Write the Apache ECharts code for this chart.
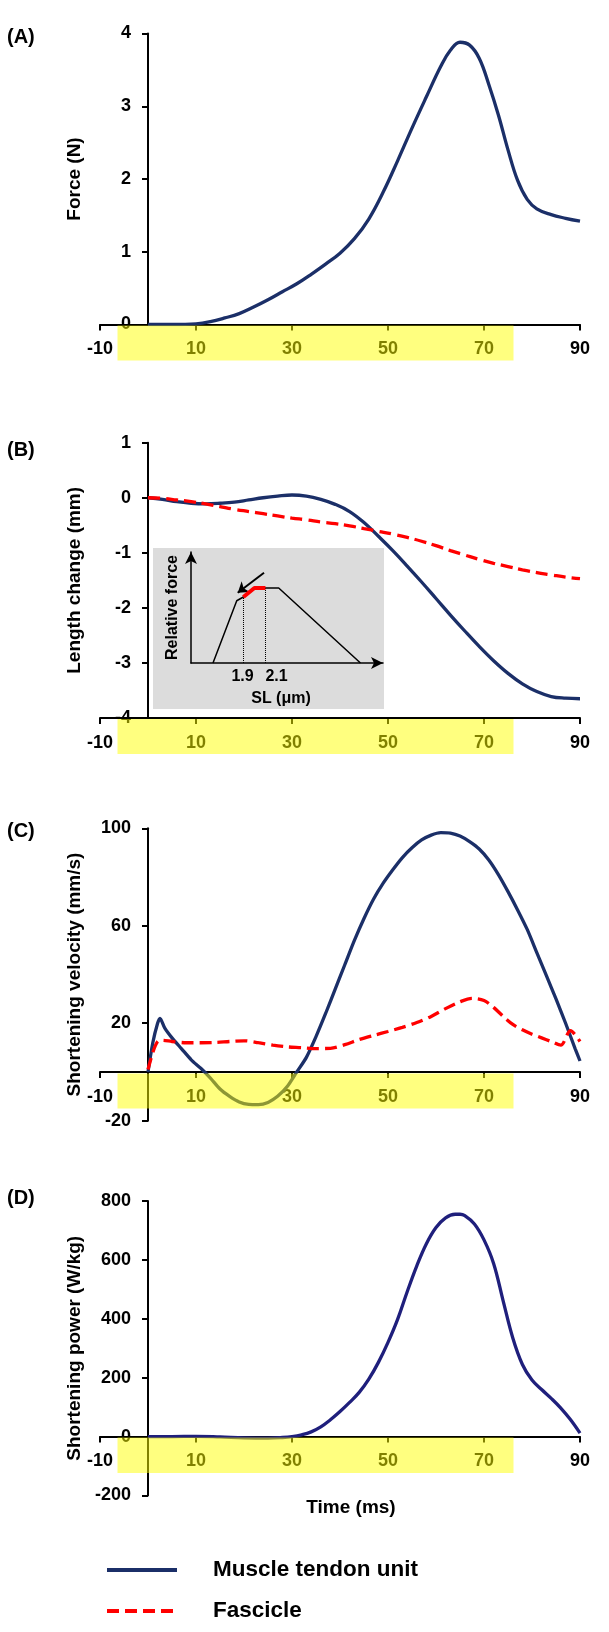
<!DOCTYPE html>
<html>
<head>
<meta charset="utf-8">
<script src="https://cdn.jsdelivr.net/npm/echarts@6.0.0/dist/echarts.min.js"></script>
<style>
html,body{margin:0;padding:0;background:#fff;}
#main{width:609px;height:1632px;}
</style>
</head>
<body>
<div id="main"></div>
<script>
// (A) force
var forceTime = [0,5,10,13,16,19,22,25,28,31,34,37,40,43,46,49,52,55,58,61,63,65,67,69,71,73,75,77,79,81,84,87,90];
var forceMTU = [0,0,0.01,0.04,0.09,0.15,0.24,0.34,0.45,0.56,0.69,0.83,0.98,1.18,1.45,1.82,2.25,2.70,3.13,3.55,3.77,3.88,3.84,3.66,3.30,2.88,2.40,1.98,1.72,1.59,1.51,1.46,1.42];

// (B) length change
var lenTime = [0,3,6,9,12,15,18,21,24,27,30,33,36,39,42,45,48,51,54,57,60,63,66,69,72,75,78,81,84,87,90];
var lenMTU = [0,-0.03,-0.07,-0.10,-0.11,-0.10,-0.08,-0.04,0.00,0.03,0.05,0.03,-0.03,-0.12,-0.25,-0.45,-0.70,-0.96,-1.24,-1.53,-1.83,-2.13,-2.42,-2.70,-2.96,-3.19,-3.38,-3.52,-3.61,-3.64,-3.65];
var lenFas = [0,-0.01,-0.04,-0.07,-0.11,-0.16,-0.21,-0.25,-0.29,-0.33,-0.37,-0.40,-0.44,-0.47,-0.51,-0.56,-0.61,-0.66,-0.72,-0.79,-0.87,-0.96,-1.04,-1.12,-1.19,-1.25,-1.31,-1.36,-1.40,-1.44,-1.47];

// (C) shortening velocity
var velTimeMTU = [0,1,2,2.5,3.5,5,7,9,11,13,15,17,19,21,23,25,27,29,31,33,35,37,39,41,43,45,47,49,51,53,55,57,59,61,63,65,67,69,71,73,75,77,79,81,83,85,87,89,90];
var velMTU = [0,12,20,22,18,14,9.5,5,1.5,-2.5,-7,-10,-12.3,-13.3,-13.4,-12.5,-10,-6,0,6,14.5,24,34,44,54,63,71,77.5,83,88,92,95.2,97.2,98.2,98,96.8,94.5,91.5,87,81,74,66.5,58.5,49,39.5,30,20,9.5,4.5];
var velTimeFas = [0,1,2,3,5,8,11,14,17,20,23,26,29,32,35,38,41,44,47,50,53,56,59,62,65,67.5,70,72,74,76,78,80,82,84,86,88,90];
var velFas = [1,8,12.5,13,12.5,12,12,12.1,12.5,12.8,12,11,10.3,10,9.6,9.7,11.2,13.3,15,16.6,18.3,20.3,22.8,26,28.8,30.2,29.3,26.5,22.8,19.5,17.3,15.5,14,12.5,11,17,12.5];

// (D) shortening power
var powTime = [0,5,10,15,20,25,28,30,32,34,36,38,40,42,44,46,48,50,52,54,56,58,60,62,64,65,66,68,70,72,74,76,78,80,82,84,86,88,90];
var powMTU = [0,0,1,-1,-4,-5,-3,0,6,16,33,57,85,116,150,195,252,320,398,492,580,655,710,743,755,755,750,722,668,588,460,335,245,192,160,130,97,58,12];

// inset: force-length schematic (SL in um, relative force)
var flCurve = [[1.625,0],[1.84,0.83],[1.9,0.88],[2.0,1.0],[2.22,1.0],[2.96,0]];
var flRange = [[1.9,0.88],[2.0,1.0],[2.1,1.0]];

var FONT = 'Liberation Sans, Arial, sans-serif';
var NAVY = '#1b2f68';
var NAVY_D = '#1f1f7c';
var RED = '#ff0000';

function pairs(t, v){
    return t.map(function(x, i){ return [x, v[i]]; });
}

// x axis drawn at y=0 via offset (labels follow the line)
function timeAxis(idx, offset){
    return {
        type: 'value', gridIndex: idx, min: -10, max: 90, interval: 20, offset: offset,
        axisLine: {show: true, onZero: false, lineStyle: {color: '#000', width: 2}},
        axisTick: {show: true, length: 6, lineStyle: {color: '#000', width: 2}},
        axisLabel: {margin: 16, color: '#000', fontSize: 18, fontWeight: 'bold', fontFamily: FONT},
        splitLine: {show: false}
    };
}

// y axis drawn at x=0 (48px right of grid left)
function valAxis(idx, min, max, interval, name){
    return {
        type: 'value', gridIndex: idx, min: min, max: max, interval: interval, offset: -48,
        name: name, nameLocation: 'middle', nameRotate: 90, nameGap: 64,
        nameTextStyle: {color: '#000', fontSize: 19, fontWeight: 'bold', fontFamily: FONT},
        axisLine: {show: true, onZero: false, lineStyle: {color: '#000', width: 2}},
        axisTick: {show: true, length: 6, lineStyle: {color: '#000', width: 2}},
        axisLabel: {margin: 17, color: '#000', fontSize: 18, fontWeight: 'bold', fontFamily: FONT},
        splitLine: {show: false}
    };
}

function line(name, idx, data, color, dashed, smooth){
    return {
        type: 'line', name: name, xAxisIndex: idx, yAxisIndex: idx,
        data: data, symbol: 'none', showSymbol: false, smooth: smooth,
        lineStyle: {color: color, width: 3.3, type: dashed ? [12, 6] : 'solid'},
        itemStyle: {color: color}
    };
}

function txt(s, x, y, size, align){
    return {
        type: 'text', x: x, y: y, z: 10,
        style: {text: s, fill: '#000', fontSize: size, fontWeight: 'bold', fontFamily: FONT,
                align: align || 'center', verticalAlign: 'middle'}
    };
}

function highlight(y, h){
    return {type: 'rect', z: 100, shape: {x: 117.5, y: y, width: 396, height: h},
            style: {fill: 'rgba(255,255,0,0.5)'}, silent: true};
}

var chart = echarts.init(document.getElementById('main'));

var inX = {
    type: 'value', gridIndex: 4, min: 1.426, max: 3.164, z: 5,
    name: 'SL (\u03bcm)', nameLocation: 'middle', nameGap: 28,
    nameTextStyle: {color: '#000', fontSize: 16, fontWeight: 'bold', fontFamily: FONT, padding: [0,0,0,-12]},
    axisLine: {show: true, onZero: false, symbol: ['none','arrow'], symbolSize: [9,12], lineStyle: {color: '#000', width: 1.5}},
    axisTick: {show: false}, axisLabel: {show: false}, splitLine: {show: false}
};
var inY = {
    type: 'value', gridIndex: 4, min: 0, max: 1.48, z: 5,
    name: 'Relative force', nameLocation: 'middle', nameRotate: 90, nameGap: 10,
    nameTextStyle: {color: '#000', fontSize: 16, fontWeight: 'bold', fontFamily: FONT},
    axisLine: {show: true, onZero: false, symbol: ['none','arrow'], symbolSize: [9,12], lineStyle: {color: '#000', width: 1.5}},
    axisTick: {show: false}, axisLabel: {show: false}, splitLine: {show: false}
};

var option = {
    animation: false,
    backgroundColor: '#fff',
    grid: [
        {left: 100, width: 480, top: 33.5, height: 291},
        {left: 100, width: 480, top: 442.7, height: 275.3},
        {left: 100, width: 480, top: 828.3, height: 292.4},
        {left: 100, width: 480, top: 1201, height: 294.5},
        {left: 191, width: 192, top: 552, height: 111}
    ],
    xAxis: [timeAxis(0, 0), timeAxis(1, 0), timeAxis(2, -48.7), timeAxis(3, -59), inX],
    yAxis: [
        valAxis(0, 0, 4, 1, 'Force (N)'),
        valAxis(1, -4, 1, 1, 'Length change (mm)'),
        valAxis(2, -20, 100, 40, 'Shortening velocity (mm/s)'),
        valAxis(3, -200, 800, 200, 'Shortening power (W/kg)'),
        inY
    ],
    legend: {
        orient: 'vertical', left: 100, top: 1552, itemWidth: 70, itemHeight: 14, itemGap: 15,
        selectedMode: false,
        data: [
            {name: 'Muscle tendon unit', lineStyle: {width: 4}},
            {name: 'Fascicle', lineStyle: {width: 4, type: [12, 6]}}
        ],
        itemStyle: {opacity: 0},
        textStyle: {fontSize: 22.5, fontWeight: 'bold', color: '#000', fontFamily: FONT, lineHeight: 26, padding: [0,0,0,31]}
    },
    series: [
        line('Muscle tendon unit', 0, pairs(forceTime, forceMTU), NAVY, false, 0.4),
        line('Muscle tendon unit', 1, pairs(lenTime, lenMTU), NAVY, false, 0.4),
        line('Fascicle', 1, pairs(lenTime, lenFas), RED, true, 0.4),
        line('Muscle tendon unit', 2, pairs(velTimeMTU, velMTU), NAVY, false, 0.25),
        line('Fascicle', 2, pairs(velTimeFas, velFas), RED, true, 0.3),
        line('Muscle tendon unit', 3, pairs(powTime, powMTU), NAVY_D, false, 0.4),
        {
            type: 'line', name: 'fl', xAxisIndex: 4, yAxisIndex: 4, data: flCurve,
            symbol: 'none', lineStyle: {color: '#000', width: 1.5}, z: 6,
            markLine: {
                silent: true, symbol: ['none','none'], label: {show: false},
                lineStyle: {color: '#000', width: 1, type: 'dotted'},
                data: [
                    [{coord: [1.9, 0]}, {coord: [1.9, 0.88]}],
                    [{coord: [2.1, 0]}, {coord: [2.1, 1.0]}]
                ]
            }
        },
        {
            type: 'line', name: 'range', xAxisIndex: 4, yAxisIndex: 4, data: flRange,
            symbol: 'none', lineStyle: {color: RED, width: 4}, z: 7,
            markLine: {
                silent: true, symbol: ['none','arrow'], symbolSize: 10, label: {show: false},
                lineStyle: {color: '#000', width: 2, type: 'solid'},
                data: [[{coord: [2.087, 1.204]}, {coord: [1.849, 0.937]}]]
            }
        }
    ],
    graphic: [
        {type: 'rect', z: 1, shape: {x: 153, y: 548, width: 231, height: 161}, style: {fill: '#dcdcdc'}, silent: true},
        txt('1.9', 242.5, 677, 16),
        txt('2.1', 276.5, 677, 16),
        txt('(A)', 7, 37, 20, 'left'),
        txt('(B)', 7, 450, 20, 'left'),
        txt('(C)', 7, 831, 20, 'left'),
        txt('(D)', 7, 1198, 20, 'left'),
        txt('Time (ms)', 351, 1508, 19),
        highlight(325.5, 35),
        highlight(719, 35),
        highlight(1073.5, 35),
        highlight(1437.5, 35.5)
    ]
};

chart.setOption(option);
</script>
</body>
</html>
